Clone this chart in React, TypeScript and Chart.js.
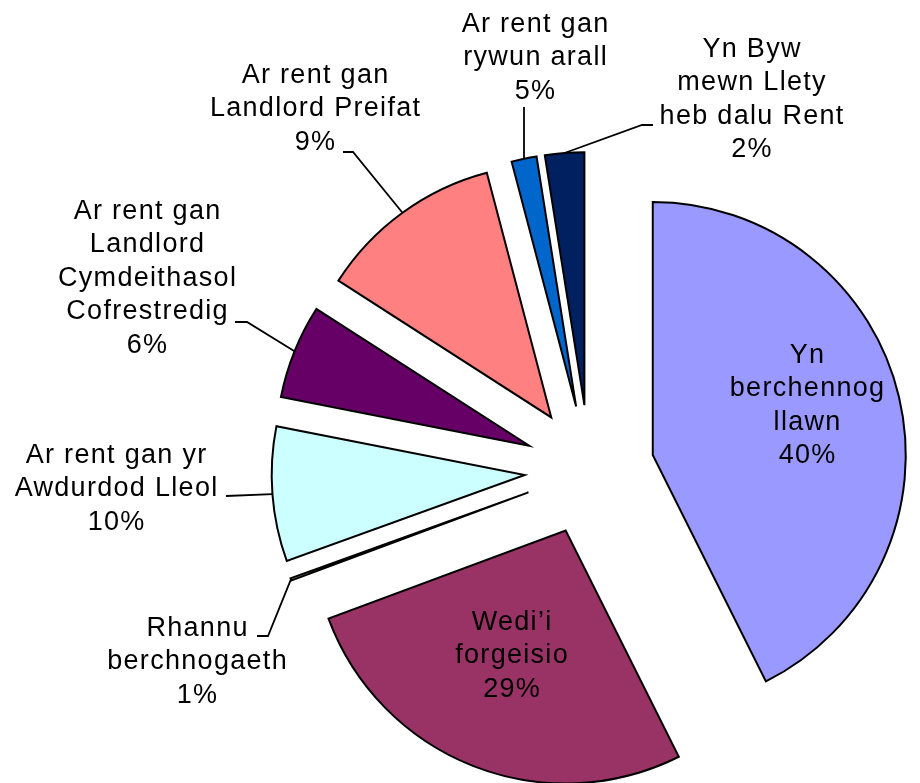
import React, { useEffect, useRef } from 'react';
import { Chart, ArcElement, PieController } from 'chart.js';

Chart.register(ArcElement, PieController);

// Categories (clockwise from 12 o'clock)
const categories: string[] = [
  'Yn berchennog llawn',
  'Wedi’i forgeisio',
  'Rhannu berchnogaeth',
  'Ar rent gan yr Awdurdod Lleol',
  'Ar rent gan Landlord Cymdeithasol Cofrestredig',
  'Ar rent gan Landlord Preifat',
  'Ar rent gan rywun arall',
  'Yn Byw mewn Llety heb dalu Rent',
];

// Slice shares
const shares: number[] = [42.6, 26.7, 0.15, 8.6, 6.0, 11.8, 1.6, 2.5];

// Percentage labels as printed on the chart
const percentLabels: string[] = ['40%', '29%', '1%', '10%', '6%', '9%', '5%', '2%'];

// How each category name is broken into lines
const labelLines: string[][] = [
  ['Yn', 'berchennog', 'llawn'],
  ['Wedi’i', 'forgeisio'],
  ['Rhannu', 'berchnogaeth'],
  ['Ar rent gan yr', 'Awdurdod Lleol'],
  ['Ar rent gan', 'Landlord', 'Cymdeithasol', 'Cofrestredig'],
  ['Ar rent gan', 'Landlord Preifat'],
  ['Ar rent gan', 'rywun arall'],
  ['Yn Byw', 'mewn Llety', 'heb dalu Rent'],
];

const colors: string[] = ['#9999FF', '#993366', '#FFFFCC', '#CCFFFF', '#660066', '#FF8080', '#0066CC', '#002060'];

// Label placement relative to pie centre (pixels)
const labelPos: number[][] = [
  [217.5, -107],
  [-78, 160],
  [-392.5, 166],
  [-473.5, -7.3],
  [-442.5, -251],
  [-274.5, -387],
  [-54.5, -438],
  [162, -413],
];
// Leader lines: start and optional elbow, relative to centre; end is the slice's arc midpoint
const leaderPts: (number[][] | null)[] = [
  null,
  null,
  [[-332.5, 166], [-321.5, 166]],
  [[-363.5, 26]],
  [[-354.5, -148], [-342.5, -148]],
  [[-246.5, -318], [-236.5, -318]],
  [[-65.5, -363]],
  [[63.5, -345], [52.5, -345]],
];

const RADIUS = 253;
const EXPLODE = 65;
const LINE_H = 33.4;
const FONT = '27px "Liberation Sans", Arial, sans-serif';

const explodeAndLabels = {
  id: 'explodeAndLabels',
  beforeDatasetsDraw(chart: any) {
    const meta = chart.getDatasetMeta(0);
    const ca = chart.chartArea;
    const cx = (ca.left + ca.right) / 2;
    const cy = (ca.top + ca.bottom) / 2;
    meta.data.forEach((arc: any) => {
      const mid = (arc.startAngle + arc.endAngle) / 2;
      arc.x = cx + Math.cos(mid) * EXPLODE;
      arc.y = cy + Math.sin(mid) * EXPLODE;
    });
  },
  afterDatasetsDraw(chart: any) {
    const ctx = chart.ctx;
    const meta = chart.getDatasetMeta(0);
    const ca = chart.chartArea;
    const cx = (ca.left + ca.right) / 2;
    const cy = (ca.top + ca.bottom) / 2;
    ctx.save();
    ctx.strokeStyle = '#000';
    ctx.lineWidth = 1.8;
    ctx.lineJoin = 'miter';
    leaderPts.forEach((pts, i) => {
      if (!pts) return;
      const arc: any = meta.data[i];
      const mid = (arc.startAngle + arc.endAngle) / 2;
      const ex = arc.x + Math.cos(mid) * arc.outerRadius;
      const ey = arc.y + Math.sin(mid) * arc.outerRadius;
      ctx.beginPath();
      ctx.moveTo(cx + pts[0][0], cy + pts[0][1]);
      for (let k = 1; k < pts.length; k++) ctx.lineTo(cx + pts[k][0], cy + pts[k][1]);
      ctx.lineTo(ex, ey);
      ctx.stroke();
    });
    ctx.font = FONT;
    try { (ctx as any).letterSpacing = '1.3px'; } catch (e) { /* ignore */ }
    ctx.fillStyle = '#000';
    ctx.textAlign = 'center';
    ctx.textBaseline = 'alphabetic';
    labelLines.forEach((lines, i) => {
      const all = [...lines, percentLabels[i]];
      const x = cx + labelPos[i][0] + 0.6;
      const y0 = cy + labelPos[i][1];
      all.forEach((t, k) => ctx.fillText(t, x, y0 + k * LINE_H));
    });
    ctx.restore();
  },
};

export default function App() {
  const ref = useRef<HTMLCanvasElement | null>(null);
  useEffect(() => {
    document.body.style.margin = '0';
    if (!ref.current) return;
    const chart = new Chart(ref.current, {
      type: 'pie',
      data: {
        labels: categories,
        datasets: [
          {
            data: shares,
            backgroundColor: colors,
            borderColor: '#000',
            borderWidth: 2,
            borderJoinStyle: 'miter',
            clip: false,
          } as any,
        ],
      },
      options: {
        responsive: false,
        animation: false,
        radius: RADIUS,
        layout: { padding: { left: 259, top: 157, right: 0, bottom: 0 } },
        plugins: {
          legend: { display: false },
          tooltip: { enabled: false },
        },
        events: [],
      } as any,
      plugins: [explodeAndLabels],
    });
    return () => chart.destroy();
  }, []);
  return (
    <div style={{ position: 'absolute', left: 0, top: 0, width: 920, height: 783, background: '#fff' }}>
      <canvas ref={ref} width={920} height={783} style={{ display: 'block' }} />
    </div>
  );
}
